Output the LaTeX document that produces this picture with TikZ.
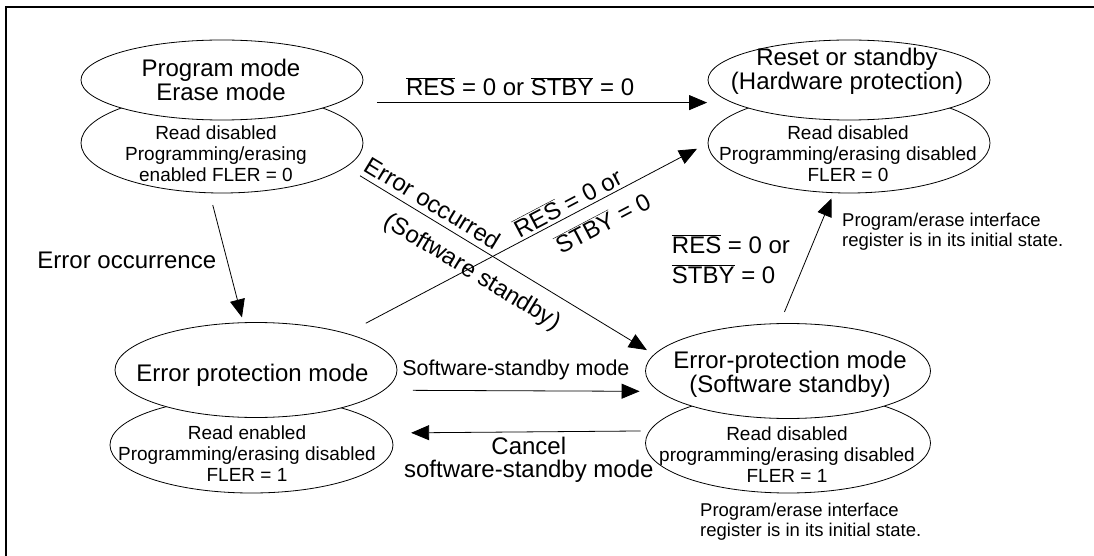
\documentclass[tikz,border=0pt]{standalone}
\usepackage{fontspec}
\setmainfont{Liberation Sans}
\usetikzlibrary{
	arrows.meta,
	shapes.geometric,
	positioning
}
\newcommand{\ovl}[1]{$\overline{\mbox{#1}}$}

\begin{document}
\begin{tikzpicture}[
			x=1pt, y=-1pt,
			modeoval/.style={
				ellipse,
				draw,
				line width=0.8pt,
				inner sep=0pt,
				outer sep=0pt,
				minimum width=282pt,
				minimum height=80pt
			},
			big/.style={
				align=center,
				inner sep=0pt,
				font=\fontsize{24}{24}\selectfont
			},
			small/.style={
				align=center,
				inner sep=0pt,
				font=\fontsize{19}{21}\selectfont
			},
			note/.style={
				align=left,
				anchor=west,
				inner sep=0pt,
				font=\fontsize{18.5}{20}\selectfont
			},
			lbl/.style={
				inner sep=0pt,
				font=\fontsize{24}{24}\selectfont
			},
			arr/.style={
				line width=0.8pt,
				-{Triangle[length=18pt,width=15pt]}
			}
			]
			
			\useasboundingbox (0,0) rectangle (1094,556);
			\draw[line width=2.3pt] (1094,7) -| (6,556);
			
			% lower ovals first, the upper ones hide their top arcs
			\node[modeoval, minimum height=100pt] (pgmlo) at (222,143) {};
			\node[modeoval, fill=white] (pgm) at (222,80) {};
			\node[modeoval, minimum height=100pt] (rstlo) at (849,143) {};
			\node[modeoval, fill=white] (rst) at (849,80) {};
			\node[modeoval, minimum width=283pt, minimum height=96pt] (eprlo) at (251.5,445) {};
			\node[modeoval, fill=white, minimum height=95pt] (epr) at (256,370) {};
			\node[modeoval, minimum width=285pt, minimum height=100pt] (swslo) at (788,443) {};
			\node[modeoval, fill=white, minimum width=285pt, minimum height=95pt] (sws) at (788,371) {};
			
			\node[big] (pgmtxt) at (221,80) {Program mode\\Erase mode};
			\node[small] (pgmlotxt) at (216,154) {Read disabled\\Programming/erasing\\enabled FLER = 0};
			\node[big] (rsttxt) at (847,71.5) {Reset or standby\\(Hardware protection)};
			\node[small] (rstlotxt) at (848,153.5) {Read disabled\\Programming/erasing disabled\\FLER = 0};
			\node[big] (eprtxt) at (252.5,375) {Error protection mode};
			\node[small] (eprlotxt) at (247,454) {Read enabled\\Programming/erasing disabled\\FLER = 1};
			\node[big] (swstxt) at (790,374.5) {Error-protection mode\\(Software standby)};
			\node[small] (swslotxt) at (787,455) {Read disabled\\programming/erasing disabled\\FLER = 1};
			
			\node[note] (rstnote) at (842,231.5) {Program/erase interface\\register is in its initial state.};
			\node[note] (swsnote) at (700,521.5) {Program/erase interface\\register is in its initial state.};
			
			\draw[arr, shorten <=38.6pt, shorten >=25.6pt] (pgm.-11.27) --
				node[lbl, pos=0.461, above=6pt] {\ovl{RES} = 0 or \ovl{STBY} = 0} (rst.191.27);
			\draw[arr, shorten <=12.6pt, shorten >=5.5pt] (pgmlo.256.67) --
				node[lbl, pos=0.518, left=10.5pt] {Error occurrence} (epr.105.28);
			\draw[arr, shorten <=16.8pt, shorten >=8.7pt] (pgmlo.-11.86) --
				node[lbl, sloped, pos=0.258, above=5.5pt] {Error occurred}
				node[lbl, sloped, pos=0.451, below=13pt] {(Software standby)} (sws.173.77);
			\draw[arr, shorten <=22.1pt, shorten >=12.4pt] (epr.22.32) --
				node[lbl, sloped, pos=0.628, above=3pt] {\ovl{RES} = 0 or}
				node[lbl, sloped, pos=0.681, below=11.5pt] {\ovl{STBY} = 0} (rstlo.180);
			\draw[arr, shorten <=12.6pt, shorten >=6.1pt] (sws.100.63) --
				node[lbl, pos=0.4935, left=16pt, align=left, font=\fontsize{24}{30}\selectfont] {\ovl{RES} = 0 or\\\ovl{STBY} = 0} (rstlo.253.26);
			\draw[arr, shorten <=29.3pt, shorten >=19.7pt] (epr.-9.82) --
				node[lbl, pos=0.48, above=10pt, font=\fontsize{21.5}{24}\selectfont] {Software-standby mode} (sws.189.17);
			\draw[arr, shorten <=9.2pt, shorten >=22.6pt] (swslo.175.35) --
				node[lbl, pos=0.463, below=5pt, align=center, font=\fontsize{24}{23}\selectfont] {Cancel\\software-standby mode} (eprlo.5.59);
			
		\end{tikzpicture}
\end{document}
